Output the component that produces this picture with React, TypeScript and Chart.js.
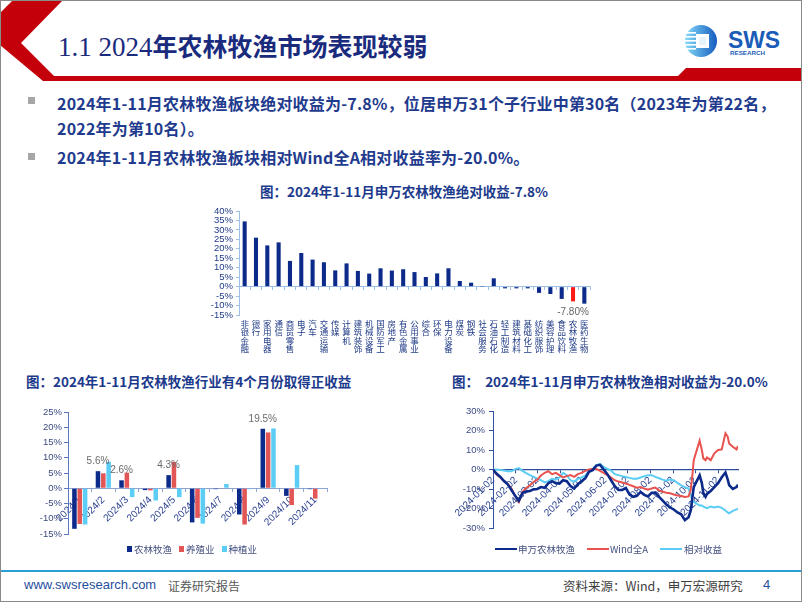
import React, { useEffect, useRef } from 'react';
import { Chart, registerables } from 'chart.js';

Chart.register(...registerables);

// ---------------- Chart 1: 申万一级行业 2024年1-11月绝对收益 ----------------
const industries = ['非银金融', '银行', '家用电器', '通信', '商贸零售', '电子', '汽车', '交通运输', '传媒', '计算机', '建筑装饰', '机械设备', '国防军工', '房地产', '有色金属', '公用事业', '综合', '环保', '电力设备', '煤炭', '钢铁', '社会服务', '石油石化', '轻工制造', '建筑材料', '基础化工', '纺织服饰', '美容护理', '食品饮料', '农林牧渔', '医药生物'];
const industryReturns = [34.5, 25.9, 21.8, 23.4, 13.6, 17.8, 14.3, 12.9, 8.6, 12.3, 8.3, 6.9, 9.7, 8.5, 9.2, 7.7, 5.1, 7.0, 9.7, 3.0, 2.1, 0.1, 4.4, -0.9, -0.9, -0.9, -3.3, -3.9, -6.5, -7.8, -9.0];
const highlightIndustry = '农林牧渔';
const absYMin = -15;
const absYMax = 40;
const absYStep = 5;

// ---------------- Chart 2: 月度收益 ----------------
const months = ['2024/1', '2024/2', '2024/3', '2024/4', '2024/5', '2024/6', '2024/7', '2024/8', '2024/9', '2024/10', '2024/11'];
const agriMonthly = [-13.3, 5.6, 2.6, -0.6, 4.3, -11.2, -0.3, -8.6, 19.5, -2.5, -0.3];
const breedingMonthly = [-11.7, 4.9, 5.1, -0.7, 8.6, -9.7, -0.2, -11.9, 18.3, -5.5, -3.4];
const plantingMonthly = [-11.9, 8.7, -2.9, -4.0, -2.9, -11.6, 1.4, -0.3, 19.6, 7.6, -0.2];
const monthlyNames = ['农林牧渔', '养殖业', '种植业'];
const monthYMin = -15;
const monthYMax = 25;
const monthYStep = 5;

// ---------------- Chart 3: 累计收益走势 ----------------
const lineDates = [
  '2024-01-02', '2024-01-07', '2024-01-12', '2024-01-17', '2024-01-22', '2024-01-27',
  '2024-02-01', '2024-02-06', '2024-02-11', '2024-02-16', '2024-02-21', '2024-02-26',
  '2024-03-02', '2024-03-07', '2024-03-12', '2024-03-17', '2024-03-22', '2024-03-27',
  '2024-04-01', '2024-04-06', '2024-04-11', '2024-04-16', '2024-04-21', '2024-04-26',
  '2024-05-01', '2024-05-06', '2024-05-11', '2024-05-16', '2024-05-21', '2024-05-26', '2024-05-31',
  '2024-06-05', '2024-06-10', '2024-06-15', '2024-06-20', '2024-06-25', '2024-06-30',
  '2024-07-05', '2024-07-10', '2024-07-15', '2024-07-20', '2024-07-25', '2024-07-30',
  '2024-08-04', '2024-08-09', '2024-08-14', '2024-08-19', '2024-08-24', '2024-08-29',
  '2024-09-03', '2024-09-08', '2024-09-13', '2024-09-18', '2024-09-23', '2024-09-26', '2024-09-28', '2024-09-30',
  '2024-10-08', '2024-10-11', '2024-10-13', '2024-10-16', '2024-10-18', '2024-10-23', '2024-10-28',
  '2024-11-02', '2024-11-07', '2024-11-12', '2024-11-15', '2024-11-17', '2024-11-22', '2024-11-27', '2024-11-29',
];
const swAgri = [
  0, -2.2, -3.8, -5.9, -7.6, -10.5,
  -13.5, -16.0, -12.0, -11.3, -11.0, -10.2,
  -10.0, -9.0, -9.4, -7.0, -6.0, -7.0,
  -7.2, -5.5, -6.0, -8.5, -9.8, -7.5,
  -6.0, -4.5, -1.2, -0.3, 2.0, 2.4, 0,
  -2.4, -5.5, -8.5, -10.5, -10.5, -9.5,
  -12.8, -14.0, -13.5, -11.5, -13.0, -13.8,
  -12.0, -12.0, -14.0, -16.0, -18.0, -19.5,
  -20.5, -22.0, -23.0, -26.0, -24.5, -21.0, -15.0, -9.0,
  -3.0, -7.0, -12.0, -14.0, -12.5, -11.0, -9.0,
  -7.0, -4.0, -1.5, -5.0, -8.0, -10.0, -9.0, -7.8,
];
const windA = [
  0, -2.6, -4.1, -6.0, -7.6, -9.8,
  -13.6, -16.7, -11.6, -9.5, -8.1, -6.4,
  -5.2, -3.1, -1.7, -0.9, -2.4, -1.7,
  -2.9, -4.1, -3.4, -2.9, -3.8, -2.4,
  -1.7, -0.7, 0, 0.3, 0.3, -0.7, -1.7,
  -2.9, -4.1, -5.5, -6.2, -6.7, -7.2,
  -7.9, -8.6, -9.3, -9.0, -9.8, -10.3,
  -9.7, -9.3, -10.7, -11.4, -11.9, -12.2,
  -12.8, -13.3, -13.6, -14.1, -13.8, -10.3, -3.8, 4.8,
  14.8, 10.0, 5.7, 4.8, 6.2, 4.8, 8.3,
  10.0, 10.3, 18.6, 16.9, 13.4, 11.7, 10.3, 12.1,
];
const relativeReturn = [
  0, 0, -0.2, -0.5, -0.9, -0.9,
  0.2, 0.7, -0.7, -1.9, -2.9, -3.8,
  -4.7, -5.5, -6.6, -6.0, -4.8, -5.2,
  -4.1, -1.7, -2.9, -5.5, -6.2, -4.8,
  -4.1, -3.1, -0.7, 0.3, 2.1, 2.9, 1.4,
  0.3, -0.5, -2.4, -2.9, -3.4, -3.8,
  -4.3, -4.7, -4.7, -4.1, -3.4, -2.9,
  -2.9, -3.8, -4.5, -5.2, -5.7, -5.2,
  -5.5, -6.9, -8.1, -9.0, -9.8, -13.0, -15.9, -16.7,
  -18.4, -18.4, -19.0, -19.5, -19.8, -19.0, -19.5,
  -19.0, -19.7, -21.0, -22.0, -22.5, -21.2, -20.5, -20.0,
];
const lineNames = ['申万农林牧渔', 'Wind全A', '相对收益'];
const lineTickDates = ['2024-01-02', '2024-02-02', '2024-03-02', '2024-04-02', '2024-05-02', '2024-06-02', '2024-07-02', '2024-08-02', '2024-09-02', '2024-10-02', '2024-11-02'];
const lineYMin = -30;
const lineYMax = 30;
const lineYStep = 10;

// ---------------- styles ----------------
const NAVY = '#0c2a8a';
const RED_BAR = '#ff1a1a';
const SALMON = '#e35656';
const SKY = '#5ccdf5';
const LINE_RED = '#e8524f';
const TITLE_BLUE = '#1c3a8c';
const SANS = '"Liberation Sans", "Noto Sans CJK SC", sans-serif';
const CJK = '"Noto Sans CJK SC", "Liberation Sans", sans-serif';

Chart.defaults.font.family = SANS;

const dayOf = (d: string) => Math.round((Date.parse(d) - Date.parse(lineDates[0])) / 86400000);

function ChartBox({ left, top, width, height, make }: { left: number; top: number; width: number; height: number; make: () => any }) {
  const ref = useRef<HTMLCanvasElement>(null);
  useEffect(() => {
    const chart = new Chart(ref.current as HTMLCanvasElement, make());
    return () => chart.destroy();
  }, []);
  return <canvas ref={ref} width={width} height={height} style={{ position: 'absolute', left, top, width, height }} />;
}

const absLabelPlugin = {
  id: 'absLabel',
  afterDatasetsDraw(chart: any) {
    const meta = chart.getDatasetMeta(0);
    const ctx = chart.ctx;
    industries.forEach((name, i) => {
      if (name !== highlightIndustry) return;
      const el = meta.data[i];
      ctx.save();
      ctx.fillStyle = '#666666';
      ctx.font = '10px ' + SANS;
      ctx.textAlign = 'center';
      ctx.textBaseline = 'middle';
      ctx.fillText(industryReturns[i].toFixed(2) + '%', el.x, el.y + 11);
      ctx.restore();
    });
  },
};

const monthLabelPlugin = {
  id: 'monthLabel',
  afterDatasetsDraw(chart: any) {
    const meta = chart.getDatasetMeta(0);
    const ctx = chart.ctx;
    agriMonthly.forEach((v, i) => {
      if (v <= 0) return;
      const el = meta.data[i];
      ctx.save();
      ctx.fillStyle = '#6a6a6a';
      ctx.font = '10px ' + SANS;
      ctx.textAlign = 'center';
      ctx.textBaseline = 'middle';
      ctx.fillText(v.toFixed(1) + '%', el.x, el.y - 10);
      ctx.restore();
    });
  },
};

const makeAbsChart = () => ({
  type: 'bar',
  data: {
    labels: industries.map((n) => Array.from(n)),
    datasets: [{
      data: industryReturns,
      backgroundColor: industries.map((n) => (n === highlightIndustry ? RED_BAR : NAVY)),
      barPercentage: 0.36,
      categoryPercentage: 1,
    }],
  },
  options: {
    responsive: false,
    animation: false,
    events: [],
    layout: { padding: { left: 0, right: 11, top: 11, bottom: 0 } },
    plugins: { legend: { display: false }, tooltip: { enabled: false } },
    scales: {
      x: {
        position: 'bottom',
        ticks: { autoSkip: false, maxRotation: 0, minRotation: 0, color: '#1f3a86', font: { size: 8.5, lineHeight: 1 }, padding: 5 },
        grid: { display: false, drawTicks: false },
        border: { display: false },
        afterFit: (s: any) => { s.height = 45; },
      },
      x2: {
        axis: 'x',
        type: 'category',
        position: { y: 0 },
        offset: true,
        ticks: { display: false },
        grid: { offset: true, drawOnChartArea: false, tickLength: 3, color: '#9cc0e6' },
        border: { color: '#9cc0e6' },
      },
      y: {
        min: absYMin,
        max: absYMax,
        ticks: { stepSize: absYStep, autoSkip: false, callback: (v: any) => v + '%', color: '#1f3a86', font: { size: 9.5, lineHeight: 1 }, padding: 3 },
        grid: { drawOnChartArea: false, tickLength: 3, color: '#9cc0e6' },
        border: { color: '#9cc0e6' },
        afterFit: (s: any) => { s.width = 44; },
      },
    },
  },
  plugins: [absLabelPlugin],
});

const makeMonthChart = () => ({
  type: 'bar',
  data: {
    labels: months,
    datasets: [
      { label: monthlyNames[0], data: agriMonthly, backgroundColor: NAVY },
      { label: monthlyNames[1], data: breedingMonthly, backgroundColor: SALMON },
      { label: monthlyNames[2], data: plantingMonthly, backgroundColor: SKY },
    ].map((d) => ({ ...d, barPercentage: 0.85, categoryPercentage: 0.68 })),
  },
  options: {
    responsive: false,
    animation: false,
    events: [],
    layout: { padding: { left: 0, right: 18, top: 14, bottom: 9 } },
    plugins: { legend: { display: false }, tooltip: { enabled: false } },
    scales: {
      x: {
        position: { y: 0 },
        offset: true,
        ticks: { autoSkip: false, maxRotation: 45, minRotation: 45, color: '#2a3f8f', font: { size: 10 }, padding: 3 },
        grid: { offset: true, drawOnChartArea: false, tickLength: 3, color: '#8fa3d3' },
        border: { color: '#8fa3d3' },
      },
      y: {
        min: monthYMin,
        max: monthYMax,
        ticks: { stepSize: monthYStep, autoSkip: false, callback: (v: any) => v + '%', color: '#3b4a80', font: { size: 9.5 }, padding: 2 },
        grid: { drawOnChartArea: false, tickLength: 4, color: '#5a78c0' },
        border: { color: '#5a78c0' },
        afterFit: (s: any) => { s.width = 48; },
      },
    },
  },
  plugins: [monthLabelPlugin],
});

const makeLineChart = () => {
  const pts = (vals: number[]) => lineDates.map((d, i) => ({ x: dayOf(d), y: vals[i] }));
  return {
    type: 'line',
    data: {
      datasets: [
        { label: lineNames[0], data: pts(swAgri), borderColor: NAVY, borderWidth: 2.6 },
        { label: lineNames[1], data: pts(windA), borderColor: LINE_RED, borderWidth: 2 },
        { label: lineNames[2], data: pts(relativeReturn), borderColor: SKY, borderWidth: 2 },
      ].map((d) => ({ ...d, pointRadius: 0, tension: 0, fill: false })),
    },
    options: {
      responsive: false,
      animation: false,
      events: [],
      layout: { padding: { left: 0, right: 12, top: 13, bottom: 10 } },
      plugins: { legend: { display: false }, tooltip: { enabled: false } },
      scales: {
        x: {
          type: 'linear',
          position: { y: 0 },
          min: 0,
          max: dayOf(lineDates[lineDates.length - 1]),
          afterBuildTicks: (s: any) => { s.ticks = lineTickDates.map((d) => ({ value: dayOf(d) })); },
          ticks: { autoSkip: false, maxRotation: 45, minRotation: 45, color: '#28408f', font: { size: 10 }, padding: 2, callback: (_v: any, i: number) => lineTickDates[i] },
          grid: { drawOnChartArea: false, tickLength: 3, color: '#2e4b9c' },
          border: { color: '#2e4b9c', width: 1.3 },
        },
        y: {
          min: lineYMin,
          max: lineYMax,
          ticks: { stepSize: lineYStep, autoSkip: false, callback: (v: any) => v + '%', color: '#3c4c86', font: { size: 9.5 }, padding: 4 },
          grid: { drawOnChartArea: false, tickLength: 4, color: '#3352a3' },
          border: { color: '#3352a3' },
          afterFit: (s: any) => { s.width = 48; },
        },
      },
    },
  };
};

const abs = (o: any): any => ({ position: 'absolute', whiteSpace: 'pre', ...o });

export default function App() {
  const bulletText: any = { fontFamily: CJK, fontWeight: 700, fontSize: 16, color: '#1f3b8e', lineHeight: '20px', letterSpacing: '0.2px' };
  const chartTitle: any = { fontFamily: CJK, fontWeight: 700, fontSize: 13.5, color: TITLE_BLUE, lineHeight: '18px' };
  const legendText: any = { fontFamily: CJK, fontSize: 9.5, color: '#44507f', lineHeight: '12px' };
  return (
    <div style={{ position: 'fixed', left: 0, top: 0, width: 802, height: 602, background: '#ffffff', overflow: 'hidden' }}>
      <svg width={802} height={602} style={{ position: 'absolute', left: 0, top: 0 }}>
        <defs>
          <linearGradient id="logoGrad" x1="0" x2="1" y1="0" y2="0">
            <stop offset="0" stopColor="#86dbf8" />
            <stop offset="1" stopColor="#145cc0" />
          </linearGradient>
        </defs>
        <polygon points="13,0 63,0 21,43 54,76 802,76 802,81 43,81 0,45 0,13" fill="#c4000b" />
        <polygon points="686,68 802,68 802,81 673,81" fill="#c4000b" />
        <circle cx={701} cy={41} r={16} fill="url(#logoGrad)" />
        <rect x={685} y={32} width={11} height={1.6} fill="#ffffff" />
        <rect x={685} y={36} width={11} height={1.6} fill="#ffffff" />
        <rect x={685} y={40} width={11} height={1.6} fill="#ffffff" />
        <rect x={685} y={44} width={11} height={1.6} fill="#ffffff" />
        <rect x={685} y={48} width={11} height={1.6} fill="#ffffff" />
        <rect x={696} y={34} width={13} height={14} fill="#ffffff" />
        <rect x={699} y={37} width={7} height={8} fill="#e8f4fc" />
        <text x={728} y={48} fontFamily='"Liberation Sans", sans-serif' fontWeight="bold" fontSize={24} fill="#1a5cb8" textLength={52} lengthAdjust="spacingAndGlyphs">SWS</text>
        <text x={730} y={55} fontFamily='"Liberation Sans", sans-serif' fontWeight="bold" fontSize={6} fill="#1a5cb8" textLength={35} lengthAdjust="spacingAndGlyphs">RESEARCH</text>
        <rect x={28} y={97} width={7} height={7} fill="#a6a6a6" />
        <rect x={28} y={153} width={7} height={7} fill="#a6a6a6" />
        <rect x={0} y={570} width={802} height={2} fill="#2a9fd6" />
        <rect x={0.5} y={0.5} width={801} height={601} fill="none" stroke="#8a8a8a" />
      </svg>

      <div style={abs({ left: 58, top: 31, lineHeight: '28px', color: '#1a2b7e' })}>
        <span style={{ fontFamily: '"Liberation Serif", serif', fontSize: 27 }}>1.1 2024</span>
        <span style={{ fontFamily: CJK, fontWeight: 700, fontSize: 25 }}>年农林牧渔市场表现较弱</span>
      </div>

      <div style={abs({ left: 57, top: 93, ...bulletText })}>2024年1-11月农林牧渔板块绝对收益为-7.8%，位居申万31个子行业中第30名（2023年为第22名，</div>
      <div style={abs({ left: 57, top: 118, ...bulletText })}>2022年为第10名）。</div>
      <div style={abs({ left: 57, top: 147, ...bulletText })}>2024年1-11月农林牧渔板块相对Wind全A相对收益率为-20.0%。</div>

      <div style={abs({ left: 260, top: 182, ...chartTitle })}>图：2024年1-11月申万农林牧渔绝对收益-7.8%</div>
      <ChartBox left={195} top={200} width={406} height={160} make={makeAbsChart} />

      <div style={abs({ left: 26, top: 372, ...chartTitle })}>图：2024年1-11月农林牧渔行业有4个月份取得正收益</div>
      <ChartBox left={20} top={398} width={325} height={145} make={makeMonthChart} />
      <div style={abs({ left: 127, top: 543, display: 'flex', alignItems: 'center', ...legendText })}>
        <span style={{ display: 'inline-block', width: 5, height: 6, background: NAVY, marginRight: 2 }} />
        <span>{monthlyNames[0]}</span>
        <span style={{ display: 'inline-block', width: 5, height: 6, background: SALMON, marginLeft: 7, marginRight: 2 }} />
        <span>{monthlyNames[1]}</span>
        <span style={{ display: 'inline-block', width: 5, height: 6, background: SKY, marginLeft: 7, marginRight: 2 }} />
        <span>{monthlyNames[2]}</span>
      </div>

      <div style={abs({ left: 452, top: 372, ...chartTitle })}>图：  2024年1-11月申万农林牧渔相对收益为-20.0%</div>
      <ChartBox left={445} top={398} width={305} height={140} make={makeLineChart} />
      <div style={abs({ left: 495, top: 543, display: 'flex', alignItems: 'center', ...legendText })}>
        <span style={{ display: 'inline-block', width: 22, height: 2.5, background: NAVY, marginRight: 1 }} />
        <span>{lineNames[0]}</span>
        <span style={{ display: 'inline-block', width: 22, height: 2.5, background: LINE_RED, marginLeft: 12, marginRight: 1 }} />
        <span>{lineNames[1]}</span>
        <span style={{ display: 'inline-block', width: 22, height: 2.5, background: SKY, marginLeft: 12, marginRight: 2 }} />
        <span>{lineNames[2]}</span>
      </div>

      <div style={abs({ left: 24, top: 577, fontFamily: '"Liberation Sans", sans-serif', fontSize: 13, color: '#1f4e9e', lineHeight: '16px' })}>www.swsresearch.com</div>
      <div style={abs({ left: 168, top: 578, fontFamily: CJK, fontSize: 12, color: '#595959', lineHeight: '15px' })}>证券研究报告</div>
      <div style={abs({ left: 563, top: 578, fontFamily: CJK, fontSize: 12.5, color: '#404040', lineHeight: '15px' })}>资料来源：Wind，申万宏源研究</div>
      <div style={abs({ left: 763, top: 577, fontFamily: '"Liberation Sans", sans-serif', fontSize: 13, color: '#1f4e9e', lineHeight: '16px' })}>4</div>
    </div>
  );
}
